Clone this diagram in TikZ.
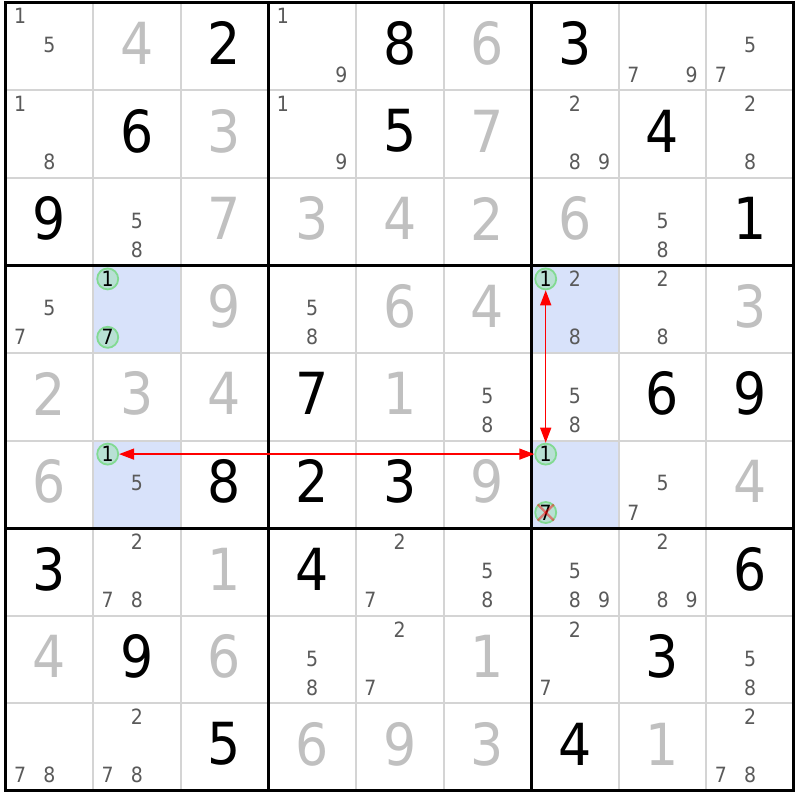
\documentclass[tikz,border=0pt]{standalone}
\usepackage{fontspec}
\setmainfont{DejaVu Sans Condensed}
\usetikzlibrary{arrows.meta}
\definecolor{solvedc}{RGB}{192,192,192}
\definecolor{candc}{RGB}{90,90,90}
\definecolor{hl}{RGB}{216,226,250}
\definecolor{thinc}{RGB}{212,212,212}
\definecolor{circfill}{RGB}{184,224,212}
\definecolor{circline}{RGB}{130,218,146}
\definecolor{arr}{RGB}{255,0,0}
\newcommand\Xo{5.5}
\newcommand\Yo{2.5}
\newcommand\Cs{87.6}
\tikzset{
  givenstyle/.style={inner sep=0pt, text=black, font=\fontsize{58}{58}\selectfont},
  solvedstyle/.style={inner sep=0pt, text=solvedc, font=\fontsize{58}{58}\selectfont},
  cand/.style={inner sep=0pt, text=candc, font=\fontsize{21}{21}\selectfont},
  circ/.style={circle, draw=circline, fill=circfill, line width=1.8pt, inner sep=0pt,
    minimum size=21pt, text=black, font=\fontsize{21}{21}\selectfont},
  thinline/.style={draw=thinc, line width=2pt},
  thickline/.style={draw=black, line width=3pt},
  redarrow/.style={draw=arr, line width=1.5pt, {Triangle[length=15pt,width=11pt]}-{Triangle[length=15pt,width=11pt]}},
  xmarkline/.style={draw=red, opacity=0.45, line width=2.2pt}
}
\newcommand\givenD[3]{\node[givenstyle] (n#1#2) at ({\Xo+(#2+0.5)*\Cs},{\Yo+(#1+0.5)*\Cs-3}) {#3};}
\newcommand\solvedD[3]{\node[solvedstyle] (n#1#2) at ({\Xo+(#2+0.5)*\Cs},{\Yo+(#1+0.5)*\Cs-3}) {#3};}
\newcommand\cands[4][cand]{%
  \foreach \d in {#4}{%
    \pgfmathtruncatemacro\sc{mod(\d-1,3)}%
    \pgfmathtruncatemacro\sr{(\d-1)/3}%
    \node[#1] (c#2#3\d) at ({\Xo+#3*\Cs+(\sc+0.5)*\Cs/3},{\Yo+#2*\Cs+(\sr+0.5)*\Cs/3-1}) {\d};
  }}
\newcommand\hlcell[2]{\fill[hl] ({\Xo+#2*\Cs},{\Yo+#1*\Cs}) rectangle ++(\Cs,\Cs);}
\begin{document}
\begin{tikzpicture}[x=1pt,y=-1pt]
\useasboundingbox (0,0) rectangle (800,800);
\fill[white] (0,0) rectangle (800,800);
% highlights
\hlcell{3}{1}\hlcell{5}{1}\hlcell{3}{6}\hlcell{5}{6}
% thin lines
\foreach \i in {1,2,4,5,7,8}{
  \draw[thinline] ({\Xo+\i*\Cs},\Yo) -- ({\Xo+\i*\Cs},{\Yo+9*\Cs});
  \draw[thinline] (\Xo,{\Yo+\i*\Cs}) -- ({\Xo+9*\Cs},{\Yo+\i*\Cs});
}
\foreach \i in {3,6}{
  \draw[thickline] ({\Xo+\i*\Cs},\Yo) -- ({\Xo+\i*\Cs},{\Yo+9*\Cs});
  \draw[thickline] (\Xo,{\Yo+\i*\Cs}) -- ({\Xo+9*\Cs},{\Yo+\i*\Cs});
}
\draw[thickline] (\Xo,\Yo) rectangle ({\Xo+9*\Cs},{\Yo+9*\Cs});
% row 0
\cands{0}{0}{1,5}\solvedD{0}{1}{4}\givenD{0}{2}{2}\cands{0}{3}{1,9}\givenD{0}{4}{8}\solvedD{0}{5}{6}\givenD{0}{6}{3}\cands{0}{7}{7,9}\cands{0}{8}{5,7}
% row 1
\cands{1}{0}{1,8}\givenD{1}{1}{6}\solvedD{1}{2}{3}\cands{1}{3}{1,9}\givenD{1}{4}{5}\solvedD{1}{5}{7}\cands{1}{6}{2,8,9}\givenD{1}{7}{4}\cands{1}{8}{2,8}
% row 2
\givenD{2}{0}{9}\cands{2}{1}{5,8}\solvedD{2}{2}{7}\solvedD{2}{3}{3}\solvedD{2}{4}{4}\solvedD{2}{5}{2}\solvedD{2}{6}{6}\cands{2}{7}{5,8}\givenD{2}{8}{1}
% row 3
\cands{3}{0}{5,7}\cands[circ]{3}{1}{1,7}\solvedD{3}{2}{9}\cands{3}{3}{5,8}\solvedD{3}{4}{6}\solvedD{3}{5}{4}\cands[circ]{3}{6}{1}\cands{3}{6}{2,8}\cands{3}{7}{2,8}\solvedD{3}{8}{3}
% row 4
\solvedD{4}{0}{2}\solvedD{4}{1}{3}\solvedD{4}{2}{4}\givenD{4}{3}{7}\solvedD{4}{4}{1}\cands{4}{5}{5,8}\cands{4}{6}{5,8}\givenD{4}{7}{6}\givenD{4}{8}{9}
% row 5
\solvedD{5}{0}{6}\cands[circ]{5}{1}{1}\cands{5}{1}{5}\givenD{5}{2}{8}\givenD{5}{3}{2}\givenD{5}{4}{3}\solvedD{5}{5}{9}\cands[circ]{5}{6}{1,7}\cands{5}{7}{5,7}\solvedD{5}{8}{4}
% row 6
\givenD{6}{0}{3}\cands{6}{1}{2,7,8}\solvedD{6}{2}{1}\givenD{6}{3}{4}\cands{6}{4}{2,7}\cands{6}{5}{5,8}\cands{6}{6}{5,8,9}\cands{6}{7}{2,8,9}\givenD{6}{8}{6}
% row 7
\solvedD{7}{0}{4}\givenD{7}{1}{9}\solvedD{7}{2}{6}\cands{7}{3}{5,8}\cands{7}{4}{2,7}\solvedD{7}{5}{1}\cands{7}{6}{2,7}\givenD{7}{7}{3}\cands{7}{8}{5,8}
% row 8
\cands{8}{0}{7,8}\cands{8}{1}{2,7,8}\givenD{8}{2}{5}\solvedD{8}{3}{6}\solvedD{8}{4}{9}\solvedD{8}{5}{3}\givenD{8}{6}{4}\solvedD{8}{7}{1}\cands{8}{8}{2,7,8}
% eliminated candidate
\draw[xmarkline] (c567.north west) -- (c567.south east);
\draw[xmarkline] (c567.north east) -- (c567.south west);
% links
\draw[redarrow] (c361) -- (c561);
\draw[redarrow] (c561) -- (c511);
\end{tikzpicture}
\end{document}
